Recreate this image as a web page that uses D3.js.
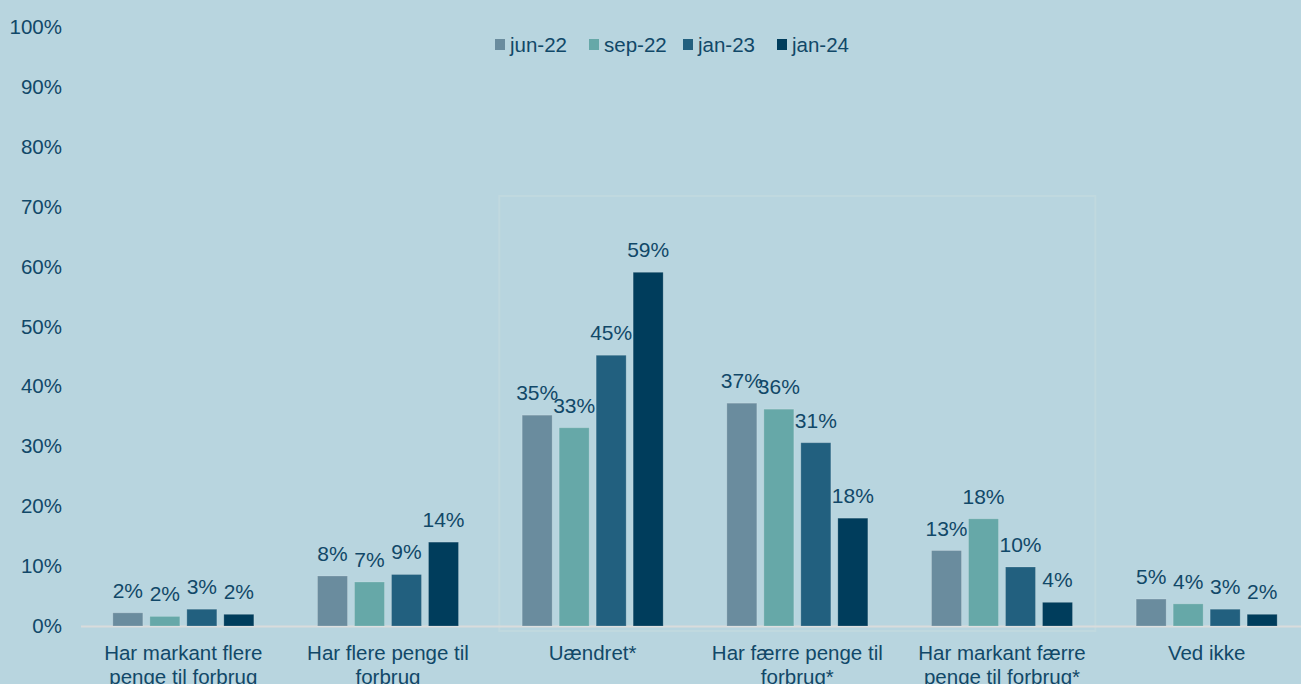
<!DOCTYPE html>
<html>
<head>
<meta charset="utf-8">
<script src="https://cdn.jsdelivr.net/npm/d3@7/dist/d3.min.js"></script>
<style>
html,body{margin:0;padding:0;background:#b8d5df;overflow:hidden;}
svg{display:block;}
text{font-family:"Liberation Sans",Arial,sans-serif;fill:#114868;}
</style>
</head>
<body>
<svg id="chart" width="1301" height="684"></svg>
<script>
const categories = [
  ["Har markant flere", "penge til forbrug"],
  ["Har flere penge til", "forbrug"],
  ["Uændret*"],
  ["Har færre penge til", "forbrug*"],
  ["Har markant færre", "penge til forbrug*"],
  ["Ved ikke"]
];
const series = ["jun-22", "sep-22", "jan-23", "jan-24"];
const colors = ["#6a8c9e", "#66a8a8", "#22607f", "#003d5c"];
const jun22 = [0.022, 0.0835, 0.352, 0.372, 0.126, 0.045];
const sep22 = [0.016, 0.0735, 0.331, 0.362, 0.179, 0.037];
const jan23 = [0.028, 0.086, 0.452, 0.306, 0.0985, 0.028];
const jan24 = [0.0195, 0.140, 0.5905, 0.180, 0.0395, 0.0195];
const values = [jun22, sep22, jan23, jan24];
const yTicks = d3.range(0, 11).map(d => d / 10);
const highlighted = [2, 3, 4];
const highlightTop = 0.718;

const svg = d3.select("#chart");
const catIdx = categories.map((d, i) => i);
const x0 = d3.scaleBand().domain(catIdx).range([81, 1309]).padding(0);
const x1 = d3.scaleBand().domain(series).range([0, 148]).paddingInner(7/37).paddingOuter(3.5/37);
const y = d3.scaleLinear().domain([0, 1]).range([626, 27]);

// highlight box
const hx0 = x0(highlighted[0]) + 9;
const hx1 = x0(highlighted[highlighted.length - 1]) + x0.bandwidth() - 9;
svg.append("rect")
  .attr("x", hx0).attr("y", y(highlightTop))
  .attr("width", hx1 - hx0).attr("height", y(0) + 5 - y(highlightTop))
  .attr("fill", "none").attr("stroke", "#c0d9df").attr("stroke-width", 2);

// y axis labels
const yAxis = d3.axisLeft(y).tickValues(yTicks).tickFormat(d3.format(".0%")).tickSize(0).tickPadding(0);
const yg = svg.append("g").attr("transform", "translate(62,0)").call(yAxis);
yg.select(".domain").remove();
yg.selectAll("text").attr("font-size", 20.5).attr("font-family", "Liberation Sans, Arial, sans-serif").attr("fill", "#114868");

// baseline
svg.append("line").attr("x1", 81).attr("x2", 1301).attr("y1", y(0) + 0.5).attr("y2", y(0) + 0.5)
  .attr("stroke", "#d9dcdc").attr("stroke-width", 2);

// bars
const groups = svg.append("g").selectAll("g").data(series).join("g")
  .attr("fill", (d, i) => colors[i]);
groups.each(function(s, si) {
  const g = d3.select(this);
  catIdx.forEach(ci => {
    const v = values[si][ci];
    const bx = x0(ci) + x0.bandwidth() / 2 - 74 + x1(s);
    g.append("rect")
      .attr("x", bx).attr("y", y(v))
      .attr("width", x1.bandwidth()).attr("height", y(0) - y(v))
      .attr("stroke", "rgba(255,255,255,0.18)").attr("stroke-width", 1);
  });
});

// data labels
series.forEach((s, si) => {
  catIdx.forEach(ci => {
    const v = values[si][ci];
    const cx = x0(ci) + x0.bandwidth() / 2 - 74 + x1(s) + x1.bandwidth() / 2;
    svg.append("text")
      .attr("x", cx).attr("y", y(v) - 15)
      .attr("text-anchor", "middle").attr("font-size", 21)
      .text(d3.format(".0%")(v));
  });
});

// category labels
categories.forEach((lines, ci) => {
  const cx = x0(ci) + x0.bandwidth() / 2;
  const t = svg.append("text").attr("text-anchor", "middle").attr("font-size", 20.5);
  lines.forEach((ln, li) => {
    t.append("tspan").attr("x", cx).attr("y", 659.5 + li * 24).text(ln);
  });
});

// legend
const legend = svg.append("g");
series.forEach((s, si) => {
  const lx = 495 + si * 94;
  legend.append("rect").attr("x", lx).attr("y", 39).attr("width", 10).attr("height", 11).attr("fill", colors[si]);
  legend.append("text").attr("x", lx + 15).attr("y", 51.5).attr("font-size", 20.5).text(s);
});
</script>
</body>
</html>
